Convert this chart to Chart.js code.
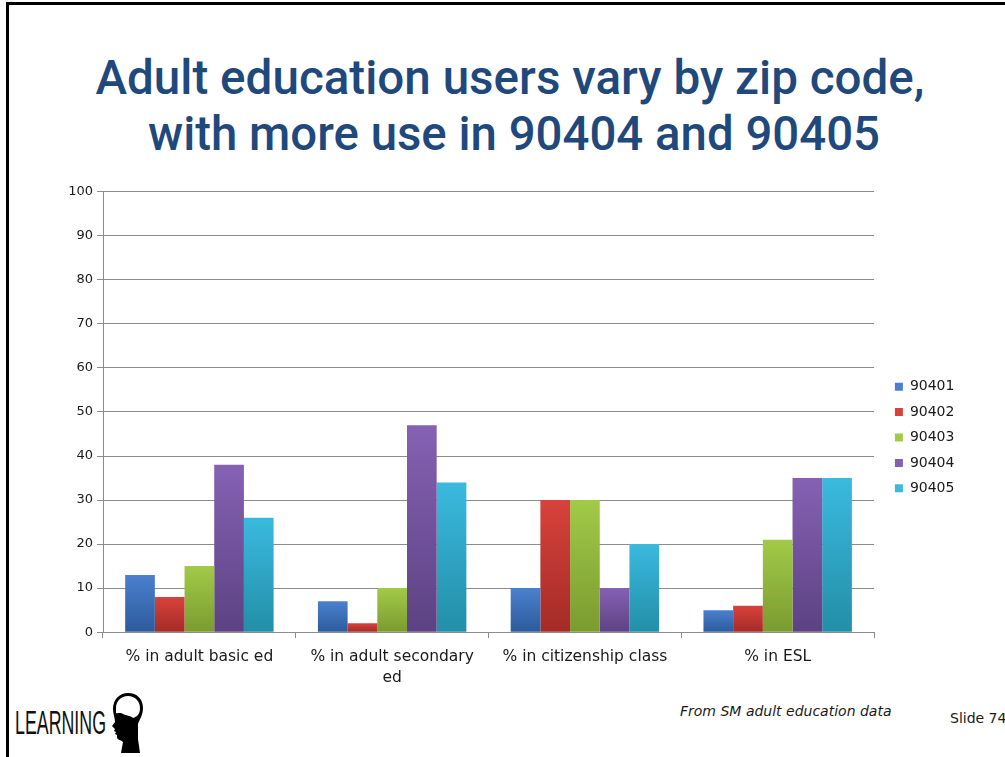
<!DOCTYPE html>
<html>
<head>
<meta charset="utf-8">
<script src="https://cdn.jsdelivr.net/npm/chart.js@4.4.1/dist/chart.umd.min.js"></script>
<style>
  html, body { margin: 0; padding: 0; background: #fff; }
  #slide { position: relative; width: 1005px; height: 757px; overflow: hidden; background: #fff; }
  #frameTop { position: absolute; left: 6px; top: 2px; width: 999px; height: 3px; background: #000; }
  #frameLeft { position: absolute; left: 6px; top: 2px; width: 3px; height: 755px; background: #000; }
  #head { position: absolute; left: 0; top: 0; }
  #chartBox { position: absolute; left: 0; top: 180px; width: 1005px; height: 520px; }
  .foot { position: absolute; font-family: "DejaVu Sans", Verdana, sans-serif; font-size: 14px; color: #1a1a1a; white-space: nowrap; }
  #source { left: 680px; top: 703px; font-style: italic; }
  #slideNo { left: 950px; top: 710px; }
</style>
</head>
<body>
<div id="slide">
  <div id="frameTop"></div>
  <div id="frameLeft"></div>
  <svg id="head" width="1005" height="757" xmlns="http://www.w3.org/2000/svg">
    <text x="510" y="94" text-anchor="middle" textLength="829" lengthAdjust="spacingAndGlyphs"
          font-family="Roboto, Liberation Sans, Arial, sans-serif" font-weight="500"
          font-size="48" fill="#1f497d">Adult education users vary by zip code,</text>
    <text x="514" y="150" text-anchor="middle" textLength="732" lengthAdjust="spacingAndGlyphs"
          font-family="Roboto, Liberation Sans, Arial, sans-serif" font-weight="500"
          font-size="48" fill="#1f497d">with more use in 90404 and 90405</text>
    <text x="15" y="734" textLength="91" lengthAdjust="spacingAndGlyphs"
          font-family="Liberation Sans Narrow, Liberation Sans, Arial, sans-serif"
          font-size="33" fill="#111">LEARNING</text>
    <!-- head silhouette logo -->
    <g transform="translate(112,693)">
      <path d="M16 0 C25 0 31 6 31 15 C31 23 27 27 26 31 L26 46 L28 60 L9 60 L11 49 C9 47 6 47 5 45 L5 42 L3 41 L4 39 L2 38 L3 36 L0 33 L3 29 C3 25 1 21 1 16 C1 6 8 0 16 0 Z" fill="#000"/>
      <path d="M16 3 C23 3 28 8 28 15 C28 21 25 24 21 25 C18 22 14 23 11 21 C8 19 6 21 4 20 C4 17 4 16 4 15 C4 8 9 3 16 3 Z" fill="#fff"/>
    </g>
  </svg>
  <div id="chartBox"><canvas id="chart"></canvas></div>
  <div class="foot" id="source">From SM adult education data</div>
  <div class="foot" id="slideNo">Slide 74</div>
</div>

<script>
// Categories and per-zip-code percentages
const categories = [
  "% in adult basic ed",
  ["% in adult secondary", "ed"],
  "% in citizenship class",
  "% in ESL"
];
const zipCodes = ["90401", "90402", "90403", "90404", "90405"];
const zip90401 = [13, 7, 10, 5];
const zip90402 = [8, 2, 30, 6];
const zip90403 = [15, 10, 30, 21];
const zip90404 = [38, 47, 10, 35];
const zip90405 = [26, 34, 20, 35];
const yTicks = [0, 10, 20, 30, 40, 50, 60, 70, 80, 90, 100];

// Bar colours: [legend swatch, top of bar, bottom of bar]
const palette = [
  ["#3d70bb", "#4b80cf", "#2c5b9b"],
  ["#c63a34", "#d8423b", "#a42b27"],
  ["#92ba3c", "#a2ca47", "#7a9b30"],
  ["#7353a0", "#8561b4", "#5c4282"],
  ["#31a9cd", "#3abadf", "#238ea7"]
];

const seriesValues = [zip90401, zip90402, zip90403, zip90404, zip90405];
const FONT = "'DejaVu Sans', Verdana, sans-serif";

// Vertical gradient per bar, lighter at the top
function barFill(i) {
  return function (ctx) {
    const [solid, top, bottom] = palette[i];
    if (ctx.type !== "data" || !ctx.chart.chartArea) return solid;
    const y = ctx.chart.scales.y;
    const y0 = y.getPixelForValue(ctx.raw);
    const y1 = y.getPixelForValue(0);
    if (y1 - y0 < 1) return top;
    const g = ctx.chart.ctx.createLinearGradient(0, y0, 0, y1);
    g.addColorStop(0, top);
    g.addColorStop(1, bottom);
    return g;
  };
}

const datasets = zipCodes.map((z, i) => ({
  label: z,
  data: seriesValues[i],
  backgroundColor: barFill(i),
  borderWidth: 0,
  categoryPercentage: 0.77,
  barPercentage: 1.0
}));

// Place the legend column next to the plot, slightly above the middle
// (canvas coordinates)
const legendPlacement = {
  id: "legendPlacement",
  afterLayout(chart) {
    const l = chart.legend;
    if (!l) return;
    const dx = 883.5 - l.left;
    l.left += dx; l.right += dx;
    const dy = 257.5 - (l.top + l.bottom) / 2;
    l.top += dy; l.bottom += dy;
  }
};

new Chart(document.getElementById("chart"), {
  type: "bar",
  data: { labels: categories, datasets },
  plugins: [legendPlacement],
  options: {
    responsive: true,
    maintainAspectRatio: false,
    animation: false,
    layout: { padding: { left: 53, right: 50, top: 11, bottom: 4 } },
    plugins: {
      legend: {
        position: "right",
        align: "center",
        labels: {
          boxWidth: 8,
          boxHeight: 8,
          padding: 11.4,
          color: "#1a1a1a",
          font: { family: FONT, size: 14 }
        }
      },
      tooltip: { enabled: false }
    },
    scales: {
      x: {
        grid: { drawOnChartArea: false, drawTicks: true, tickLength: 6, color: "#8c8c8c", offset: true },
        border: { color: "#8c8c8c" },
        ticks: { color: "#1a1a1a", font: { family: FONT, size: 15.5, lineHeight: 1.35 }, padding: 8, maxRotation: 0, autoSkip: false }
      },
      y: {
        min: 0,
        max: 100,
        afterBuildTicks: s => { s.ticks = yTicks.map(v => ({ value: v })); },
        afterFit: s => { s.width = 50; },
        grid: { color: "#8c8c8c", tickLength: 6 },
        border: { color: "#8c8c8c" },
        ticks: { color: "#1a1a1a", font: { family: FONT, size: 13 }, padding: 4 }
      }
    }
  }
});
</script>
</body>
</html>
